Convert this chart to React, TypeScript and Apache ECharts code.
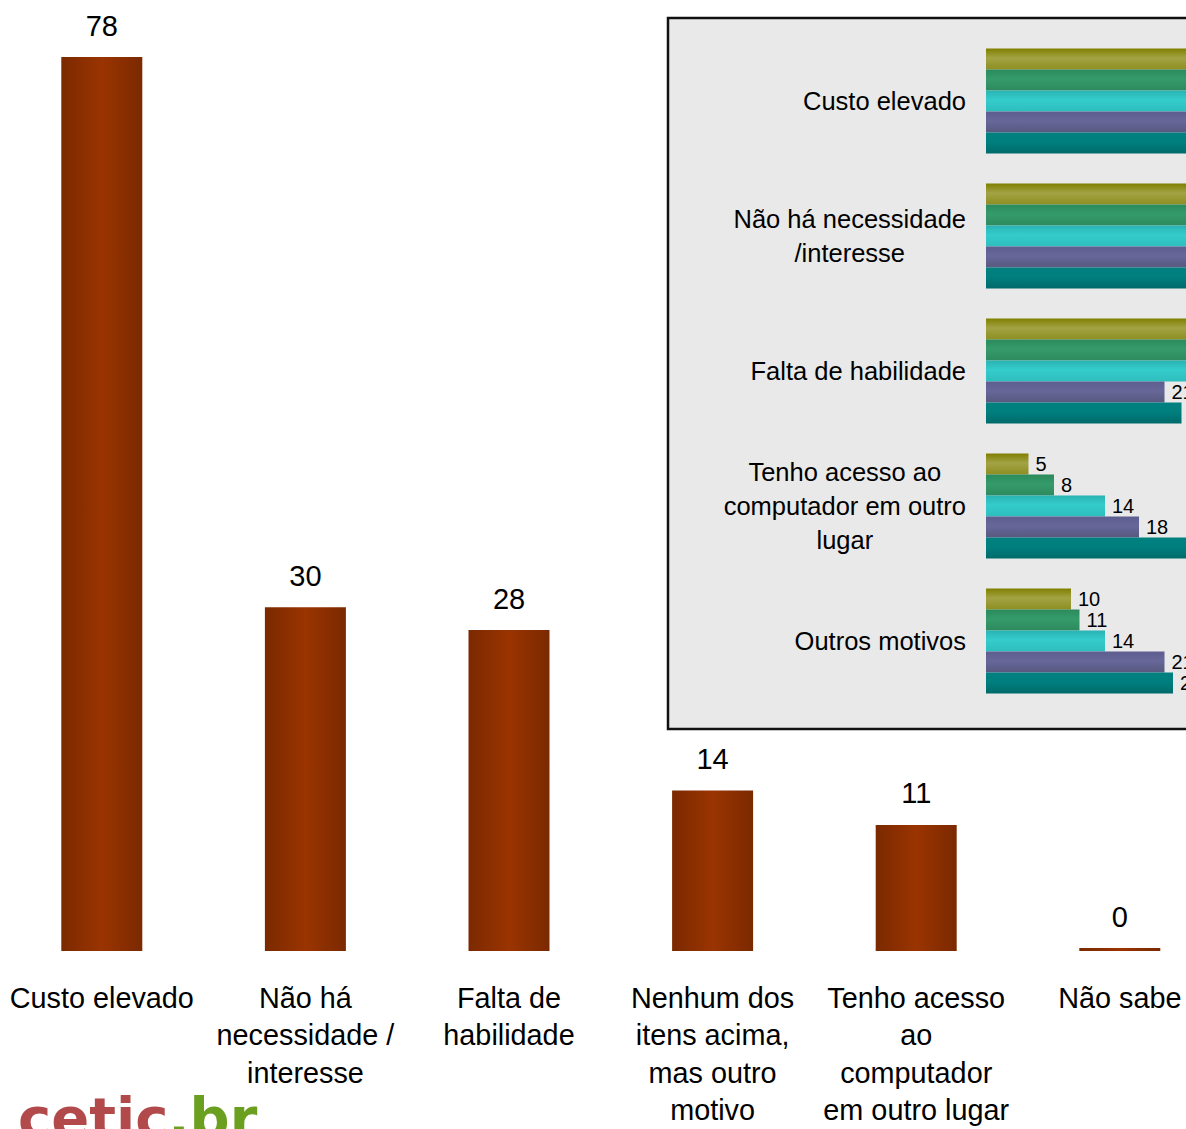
import React, { useEffect, useRef } from "react";
import * as echarts from "echarts";

const mainCategories = [
  "Custo elevado",
  "Não há\nnecessidade /\ninteresse",
  "Falta de\nhabilidade",
  "Nenhum dos\nitens acima,\nmas outro\nmotivo",
  "Tenho acesso\nao\ncomputador\nem outro lugar",
  "Não sabe",
];
const mainValues = [78, 30, 28, 14, 11, 0];

const insetCategories = [
  "Custo elevado",
  "Não há necessidade\n/interesse",
  "Falta de habilidade",
  "Tenho acesso ao\ncomputador em outro\nlugar",
  "Outros motivos",
];
const insetSeriesNames = ["2005", "2006", "2007", "2008", "2009"];
const insetOlive = [76, 37, 33, 5, 10];
const insetGreen = [74, 35, 32, 8, 11];
const insetCyan = [77, 33, 30, 14, 14];
const insetPurple = [75, 31, 21, 18, 21];
const insetTeal = [78, 30, 23, 25, 22];

const FONT = "'Liberation Sans', Arial, Helvetica, sans-serif";

const vgrad = (dark: string, light: string, bottom: string) =>
  new echarts.graphic.LinearGradient(0, 0, 0, 1, [
    { offset: 0, color: dark },
    { offset: 0.45, color: light },
    { offset: 1, color: bottom },
  ]);

export default function App() {
  const ref = useRef<HTMLDivElement>(null);
  useEffect(() => {
    if (!ref.current) return;
    const chart = echarts.init(ref.current, undefined, { renderer: "svg" });
    const insetData = [insetOlive, insetGreen, insetCyan, insetPurple, insetTeal];
    const insetColors = [
      vgrad("#7f7f00", "#a3a345", "#8e8e22"),
      vgrad("#2b8a5c", "#359b6a", "#2e8a5e"),
      vgrad("#2ab3b3", "#35cccc", "#2ebdbd"),
      vgrad("#5d5d8f", "#67679a", "#58587f"),
      vgrad("#008080", "#007f7f", "#006a6a"),
    ];
    const mainGrad = new echarts.graphic.LinearGradient(1, 0, 0, 0, [
      { offset: 0, color: "#7b2900" },
      { offset: 0.5, color: "#9a3400" },
      { offset: 1, color: "#7b2900" },
    ]);
    chart.setOption({
      animation: false,
      backgroundColor: "#ffffff",
      textStyle: { fontFamily: FONT },
      grid: [
        { left: 0, width: 1221.6, top: 57, height: 899 },
        { left: 986, width: 850, top: 33.5, height: 675 },
      ],
      xAxis: [
        {
          gridIndex: 0,
          type: "category",
          data: mainCategories,
          axisLine: { show: false },
          axisTick: { show: false },
          axisLabel: {
            interval: 0,
            fontSize: 28.8,
            lineHeight: 37.5,
            color: "#000",
            margin: 28,
            fontFamily: FONT,
          },
        },
        {
          gridIndex: 1,
          type: "value",
          min: 0,
          max: 100,
          show: false,
        },
      ],
      yAxis: [
        { gridIndex: 0, type: "value", min: 0, max: 78, show: false },
        {
          gridIndex: 1,
          type: "category",
          inverse: true,
          data: insetCategories,
          axisLine: { show: false },
          axisTick: { show: false },
          axisLabel: {
            margin: 20,
            fontSize: 25.5,
            lineHeight: 34,
            color: "#000",
            fontFamily: FONT,
            formatter: (v: string) =>
              v
                .split("\n")
                .map((l) => "{c|" + l + "}")
                .join("\n"),
            rich: {
              c: {
                align: "center",
                fontSize: 25.5,
                lineHeight: 34,
                color: "#000",
                fontFamily: FONT,
              },
            },
          },
        },
      ],
      graphic: [
        {
          type: "rect",
          z: 0,
          shape: { x: 668, y: 18, width: 1100, height: 711 },
          style: { fill: "#e9e9e9", stroke: "#111", lineWidth: 2.5 },
        },
        {
          type: "text",
          z: 10,
          x: 18,
          y: 1089,
          style: {
            text: "{a|cetic}{b|.br}",
            rich: {
              a: {
                fontSize: 56,
                fontWeight: "bold",
                fontFamily: "'DejaVu Sans', sans-serif",
                fill: "#b24a4c",
              },
              b: {
                fontSize: 56,
                fontWeight: "bold",
                fontFamily: "'DejaVu Sans', sans-serif",
                fill: "#6b9f1f",
              },
            },
            verticalAlign: "top",
          },
        },
      ],
      series: [
        {
          type: "bar",
          xAxisIndex: 0,
          yAxisIndex: 0,
          data: mainValues,
          barWidth: 81,
          barMinHeight: 3,
          itemStyle: { color: mainGrad },
          label: {
            show: true,
            position: "top",
            distance: 17,
            fontSize: 29,
            color: "#000",
            fontFamily: FONT,
          },
        },
        ...insetData.map((d, i) => ({
          type: "bar",
          name: insetSeriesNames[i],
          xAxisIndex: 1,
          yAxisIndex: 1,
          data: d,
          barWidth: 21,
          barGap: "0%",
          itemStyle: { color: insetColors[i] },
          label: {
            show: true,
            position: "right",
            distance: 7,
            fontSize: 20,
            color: "#000",
            fontFamily: FONT,
          },
        })),
      ],
    });
    return () => chart.dispose();
  }, []);
  return (
    <div
      style={{
        position: "absolute",
        left: 0,
        top: 0,
        width: 1186,
        height: 1129,
        overflow: "hidden",
      }}
    >
      <div ref={ref} style={{ width: 1900, height: 1129 }} />
    </div>
  );
}
